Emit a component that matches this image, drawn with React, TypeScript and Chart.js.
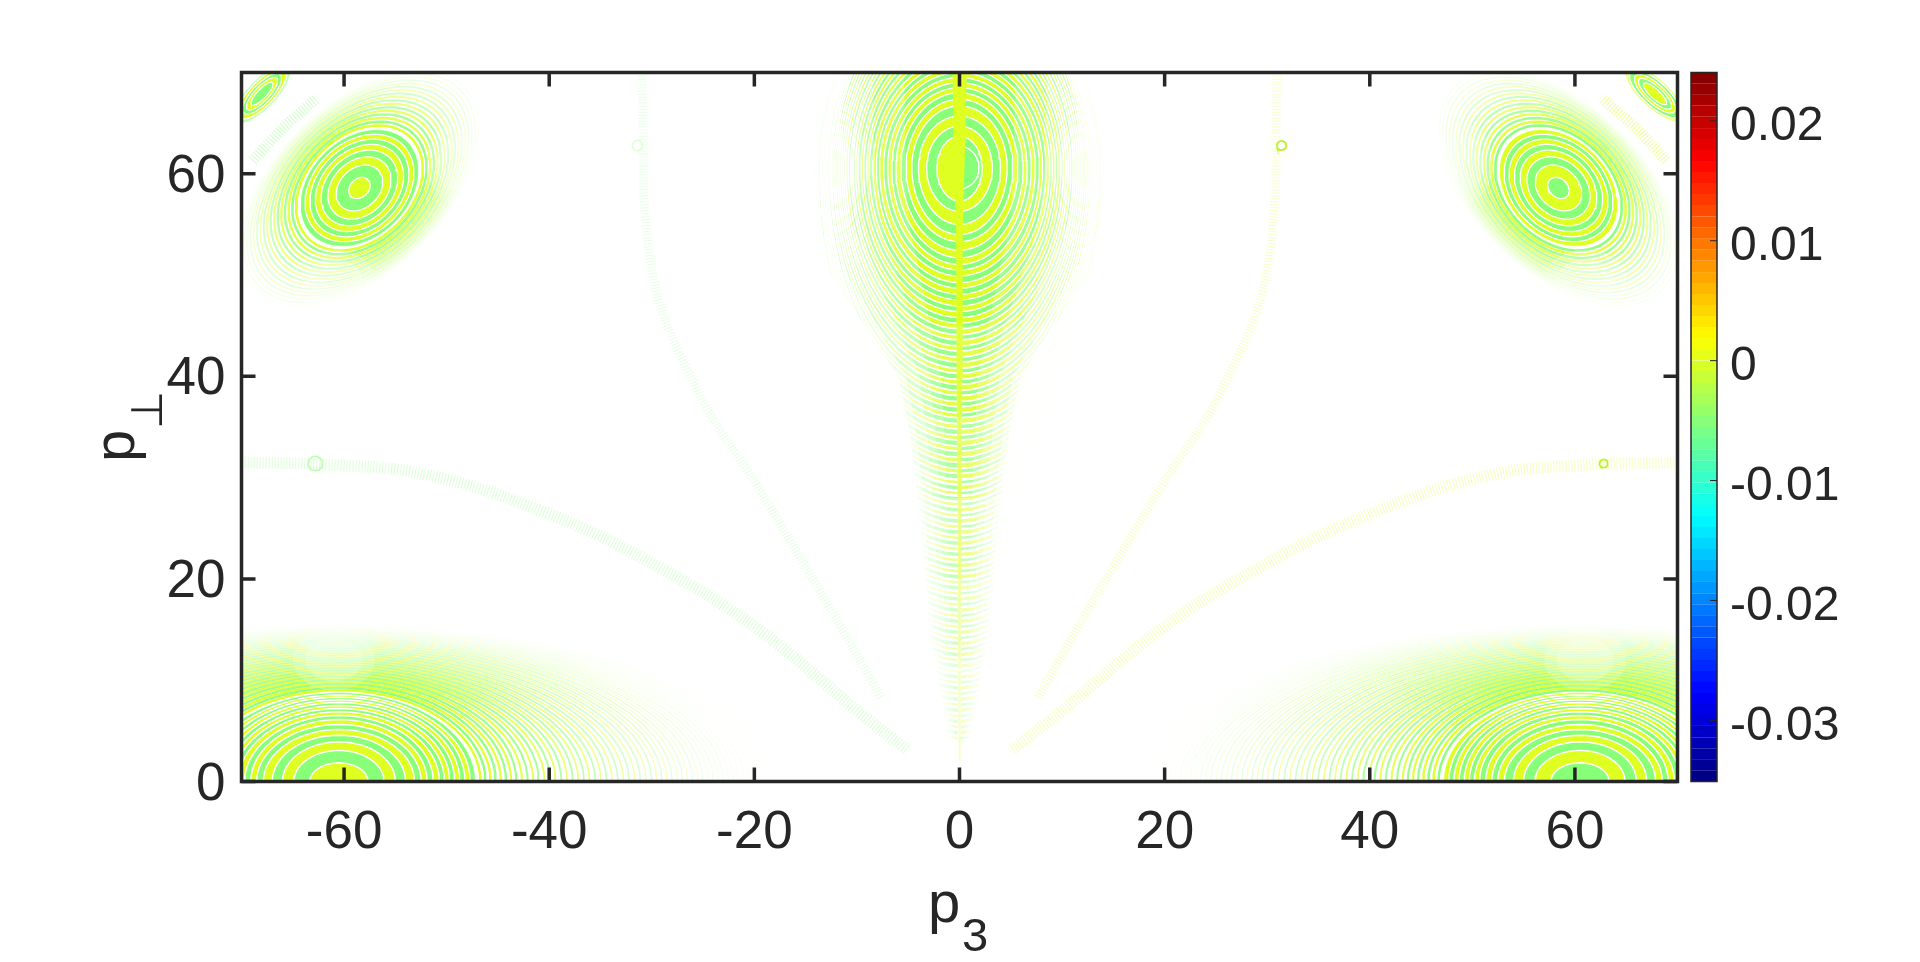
import React, { useEffect, useRef } from "react";
import { Chart, registerables } from "chart.js";
Chart.register(...registerables);

const xTickValues = [-60, -40, -20, 0, 20, 40, 60];
const yTickValues = [0, 20, 40, 60];
const barTickValues = [0.02, 0.01, 0, -0.01, -0.02, -0.03];
const barTickLabels = ["0.02", "0.01", "0", "-0.01", "-0.02", "-0.03"];
const barMin = -0.0351;
const barMax = 0.02403;

const lime = [222, 255, 33];
const green = [136, 255, 120];

// Ring edges, in data units.
const bottomB = [1.84,3.06,3.92,4.57,5.13,5.63,6.12,6.51,6.88,7.2,7.5,7.8,8.06,8.32,8.55,8.78,9.01,9.24,9.44,9.64,9.84,10.03,10.2,10.36,10.53,10.66,10.79,10.92,11.05,11.18,11.31,11.44,11.57,11.7,11.82,11.94,12.06,12.18,12.3,12.42,12.54,12.66,12.78,12.9,13.01,13.12,13.23,13.34,13.45,13.56,13.66,13.76,13.86,13.96,14.05,14.14,14.23,14.32,14.41,14.5,14.58,14.66,14.74,14.82,14.89,14.96,15.03,15.1,15.16,15.22,15.28,15.34,15.4,15.46];
const bottomA = [2.83,4.39,5.5,6.5,7.37,8.02,8.6,9.2,9.8,10.3,10.8,11.3,11.8,12.3,12.8,13.3,13.8,14.3,14.8,15.3,15.8,16.3,16.8,17.3,17.85,18.4,18.95,19.5,20.05,20.6,21.15,21.7,22.25,22.8,23.35,23.9,24.45,25,25.55,26.1,26.65,27.2,27.75,28.3,28.85,29.4,29.95,30.5,31,31.5,32,32.5,33,33.5,34,34.5,35,35.5,36,36.5,37,37.5,38,38.5,39,39.5,40,40.5,41,41.5,42,42.5,43,43.5];
const upperMinor = [0.9,1.95,2.65,3.2,3.67,4.1,4.5,4.85,5.15,5.42,5.68,5.92,6.15,6.37,6.58,6.78,6.97,7.15,7.32,7.48,7.63,7.77,7.9,8.02,8.13,8.24];
const upperMajor = [1.17,2.54,3.45,4.2,4.85,5.45,6,6.55,7.05,7.5,7.95,8.4,8.85,9.3,9.75,10.2,10.65,11.1,11.55,12,12.45,12.9,13.35,13.8,14.25,14.7];
const cornerMinor = [0.45,0.7,0.95,1.2,1.45];
const cornerMajor = [1.5,2.1,2.6,3.2,3.8];
const centerA = [2.2,3.2,4,4.65,5.2,5.7,6.2,6.6,7,7.4,7.8,8.1,8.45,8.8,9.05,9.35,9.6,9.9,10.15,10.4,10.6,10.85,11.1,11.3,11.5,11.7,11.9,12.1,12.3,12.5,12.65,12.85,13,13.15,13.3,13.45,13.6,13.8,13.95,14.1,14.2,14.3,14.4,14.5,14.6,14.7,14.8,14.9,15,15.1,15.2,15.3,15.4,15.5,15.6,15.7,15.8,15.9,16,16.1,16.2,16.3,16.4,16.5,16.5,16.5,16.5,16.5,16.5,16.5,16.5,16.5,16.5,16.5,16.5,16.5,16.5,16.5,16.5,16.5,16.5,16.5,16.5,16.5,16.5,16.5,16.5,16.5,16.5,16.5,16.5,16.5,16.5];
const centerUp = [3.1,4.1,5.1,6.1,6.75,7.4,7.9,8.4,8.9,9.4,9.9,10.4,10.9,11.4,11.9,12.4,12.9,13.4,13.9,14.4,14.9,15.4,15.9,16.4,16.9,17.4,17.9,18.4];
const centerDown = [3.3,4.3,5.6,6.6,7.3,8.15,8.9,9.55,10.1,10.7,11.35,11.9,12.5,13.05,13.65,14.2,14.8,15.35,15.9,16.5,17,17.6,18.1,18.7,19.2,19.8,20.3,20.9,21.4,22,22.5,23.1,23.6,24.2,24.7,25.3,25.8,26.4,26.9,27.5,28,28.6,29.1,29.7,30.2,30.8,31.3,31.9,32.4,33,33.5,34.1,34.6,35.2,35.7,36.3,36.8,37.4,37.9,38.5,39,39.6,40.1,40.7,41.2,41.8,42.3,42.9,43.4,44,44.5,45.1,45.6,46.2,46.7,47.3,47.8,48.4,48.9,49.5,50,50.6,51.1,51.7,52.2,52.8,53.3,53.9,54.4,55,55.5,56.1,56.6];
const centerCoreRight = [1.9, 2.1, 2.1];
const stripeY = [70,66,63,58,54,48,40,30,20,10,2];
const stripeHalf = [0.7,0.6,0.55,0.4,0.33,0.3,0.27,0.2,0.15,0.12,0.08];
const envelopeY = [70,60,55,50,45,40,35,30,25,20,15,11,8,4,1,0];
const envelopeX = [15.5,15,14,11,8,5.2,4.3,3.7,3.2,2.9,2.5,2,1.5,0.8,0.2,0.1];
const strandLowX = [-70,-62,-52,-40,-29,-19.6,-10,-5];
const strandLowY = [31.5,31.3,30.3,26.4,21,15,7,3];
const strandHighX = [-31,-30,-25.5,-19.6,-12.4,-7.6];
const strandHighY = [70,50.6,38.5,29,16.7,8.2];
const cornerStreakX = [-68.9,-66,-62.6];
const cornerStreakY = [61.3,64.5,67.5];
const patchX = [-61,61,-61,61,-49,49,-12,12,0];
const patchY = [12,12,49.5,49.5,61,61,61,61,11];
const patchRx = [4,4,4,4,3,3,3.5,3.5,3];
const patchRy = [3,3,3,3,4,4,4,4,0.25];
const dotX = [-62.8,62.8,31.4,-31.4];
const dotY = [31.4,31.4,62.8,62.8];
const dotR = [0.7,0.4,0.45,0.5];

const mix = (c: number[], s: number) => {
  const m = c.map((v) => Math.round(255 - (255 - v) * s));
  return `rgb(${m[0]},${m[1]},${m[2]})`;
};
const ellipse = (cx: number, cy: number, a: number, b: number, deg: number) => {
  const t = (deg * Math.PI) / 180;
  const pts = [];
  for (let i = 0; i <= 72; i++) {
    const u = (i * Math.PI) / 36;
    const ex = a * Math.cos(u);
    const ey = b * Math.sin(u);
    pts.push({ x: cx + ex * Math.cos(t) - ey * Math.sin(t), y: cy + ex * Math.sin(t) + ey * Math.cos(t) });
  }
  return pts;
};
const halfRing = (side: number, cy: number, a: number, up: number, down: number) => {
  const pts = [];
  for (let i = 0; i <= 36; i++) {
    const u = -Math.PI / 2 + (i * Math.PI) / 36;
    const s = Math.sin(u);
    pts.push({ x: side * a * Math.cos(u), y: cy + (s > 0 ? up : down) * s });
  }
  pts.push(pts[0]);
  return pts;
};
const shape = (data: any[], fillColor: string, edge = "rgba(0,0,0,0)", edgeWidth = 0) => ({
  data,
  showLine: true,
  fill: "shape",
  backgroundColor: fillColor,
  borderColor: edge,
  borderWidth: edgeWidth,
  pointRadius: 0,
  tension: 0,
});
const stroke = (data: any[], color: string, width: number, dash: number[] = [], tension = 0) => ({
  data,
  showLine: true,
  fill: false,
  borderColor: color,
  borderWidth: width,
  borderDash: dash,
  pointRadius: 0,
  tension,
});
const strengthOf = (i: number, n: number, start: number) => {
  const f = i / (n - 1);
  if (f <= start) return 1;
  return Math.max(0.06, 1 - ((f - start) / (1 - start)) * 0.95);
};

const buildDatasets = () => {
  const out: any[] = [];
  // central lobe, outermost first: both sides share their edges with the colours swapped
  const cy = 60.6;
  for (const side of [-1, 1]) {
    for (let i = centerA.length - 1; i >= 0; i--) {
      const up = centerUp[Math.min(i, centerUp.length - 1)];
      const oddGreen = side < 0;
      const c = (i % 2 === 1) === oddGreen ? green : lime;
      out.push(shape(halfRing(side, cy, centerA[i], up, centerDown[i]), mix(c, 1), "#ffffff", i < 18 ? 1.4 : i < 45 ? 1.8 : 2.6));
    }
  }
  out.push(shape(halfRing(1, cy, centerCoreRight[0], centerCoreRight[1], centerCoreRight[2]), mix(green, 1), "#ffffff", 1.4));
  out.push(shape([...stripeY.map((y, i) => ({ x: -stripeHalf[i], y })), ...stripeY.slice().reverse().map((y, i) => ({ x: stripeHalf[stripeHalf.length - 1 - i], y }))], mix(lime, 1)));
  // fading of the central lobe
  const vFades = [[45, 0.15], [36, 0.2], [28, 0.25], [20, 0.3], [12, 0.3]];
  for (const [top, al] of vFades) {
    out.push(shape([{ x: -18, y: 0 }, { x: 18, y: 0 }, { x: 18, y: top }, { x: -18, y: top }, { x: -18, y: 0 }], `rgba(255,255,255,${al})`));
  }
  const masks = [[0.35, 0.2], [0.55, 0.25], [0.75, 0.35], [1, 0.5], [1.15, 0.9]];
  for (const [k, al] of masks) {
    for (const side of [-1, 1]) {
      const pts = envelopeY.map((y, i) => ({ x: side * envelopeX[i] * k, y }));
      pts.push({ x: side * 18, y: 0 }, { x: side * 18, y: 70 }, pts[0]);
      out.push(shape(pts, `rgba(255,255,255,${al})`));
    }
  }
  // bottom lobes: solid bands near the core, thin fringes further out
  for (const [cx, flip] of [[-60.5, false], [60.5, true]] as [number, boolean][]) {
    for (let i = bottomB.length - 1; i >= 0; i--) {
      const c = (i % 2 === 0) !== flip ? lime : green;
      const pts = ellipse(cx, 0, bottomA[i], bottomB[i], 0);
      const st = strengthOf(i, bottomB.length, 0.2);
      if (i >= 16) out.push(stroke(pts, mix(c, Math.pow(st, 1.6)), Math.max(1, 2.4 - (i - 16) * 0.03)));
      else out.push(shape(pts, mix(c, 1), "#ffffff", i === 15 ? 0.6 : 1.5));
    }
  }
  // upper tilted lobes, same edges with the colours swapped
  for (const [cx, deg, first, second] of [[-58.5, 45, lime, green], [58.4, 135, green, lime]] as [number, number, number[], number[]][]) {
    for (let i = upperMinor.length - 1; i >= 0; i--) {
      const c = i % 2 === 0 ? first : second;
      const pts = ellipse(cx, 58.6, upperMajor[i], upperMinor[i], deg);
      const st = strengthOf(i, upperMinor.length, 0.28);
      if (i >= 8) out.push(stroke(pts, mix(c, Math.pow(st, 1.3)), Math.max(1.1, 2.6 - (i - 8) * 0.08)));
      else out.push(shape(pts, mix(c, 1), "#ffffff", i === 7 ? 0.6 : 1.3));
    }
  }
  // corner lobes
  for (const [cx, deg, first, second] of [[-68, 47, green, lime], [67.8, -43, lime, green]] as [number, number, number[], number[]][]) {
    for (let i = cornerMinor.length - 1; i >= 0; i--) {
      const c = i % 2 === 0 ? first : second;
      out.push(shape(ellipse(cx, 67.9, cornerMajor[i], cornerMinor[i], deg), mix(c, i === 4 ? 0.5 : 1), "#ffffff", 1.2));
    }
  }
  // patches where the interference thins the fringes
  patchX.forEach((x, i) => {
    out.push(shape(ellipse(x, patchY[i], patchRx[i], patchRy[i], 0), "rgba(255,255,255,0.22)"));
    out.push(shape(ellipse(x, patchY[i], patchRx[i] * 0.7, patchRy[i] * 0.7, 0), "rgba(255,255,255,0.25)"));
  });
  // faint strands
  const low = strandLowX.map((x, i) => ({ x, y: strandLowY[i] }));
  const high = strandHighX.map((x, i) => ({ x, y: strandHighY[i] }));
  const corner = cornerStreakX.map((x, i) => ({ x, y: cornerStreakY[i] }));
  const mirror = (p: any[]) => p.map((q) => ({ x: -q.x, y: q.y }));
  out.push(stroke(low, "rgba(136,255,120,0.3)", 12, [1, 2], 0.4));
  out.push(stroke(high, "rgba(136,255,120,0.2)", 9, [1, 2], 0.4));
  out.push(stroke(corner, "rgba(136,255,120,0.4)", 11, [1, 2]));
  out.push(stroke(mirror(low), "rgba(222,255,33,0.3)", 12, [1, 2], 0.4));
  out.push(stroke(mirror(high), "rgba(222,255,33,0.25)", 9, [1, 2], 0.4));
  out.push(stroke(mirror(corner), "rgba(222,255,33,0.45)", 11, [1, 2]));
  dotX.forEach((x, i) => {
    out.push(stroke(ellipse(x, dotY[i], dotR[i], dotR[i], 0), i === 0 ? "rgb(190,255,175)" : i === 3 ? "rgb(225,255,215)" : "rgb(190,240,40)", 1.6));
  });
  return out.reverse();
};

const jet = (f: number) => {
  const ch = (v: number) => Math.round(255 * Math.max(0, Math.min(1, 1.5 - Math.abs(4 * f - v))));
  return `rgb(${ch(3)},${ch(2)},${ch(1)})`;
};

const INK = "#262626";
const FONT = '"Liberation Sans", Arial, sans-serif';

const framePlugin = {
  id: "frame",
  afterDatasetsDraw(chart: any) {
    const { ctx, chartArea: a, scales } = chart;
    ctx.save();
    ctx.strokeStyle = INK;
    ctx.lineWidth = 3.5;
    ctx.strokeRect(a.left, a.top, a.right - a.left, a.bottom - a.top);
    ctx.beginPath();
    for (const v of xTickValues) {
      const p = scales.x.getPixelForValue(v);
      ctx.moveTo(p, a.bottom);
      ctx.lineTo(p, a.bottom - 14);
      ctx.moveTo(p, a.top);
      ctx.lineTo(p, a.top + 14);
    }
    for (const v of yTickValues) {
      const p = scales.y.getPixelForValue(v);
      ctx.moveTo(a.left, p);
      ctx.lineTo(a.left + 14, p);
      ctx.moveTo(a.right, p);
      ctx.lineTo(a.right - 14, p);
    }
    ctx.stroke();
    ctx.fillStyle = INK;
    ctx.textBaseline = "alphabetic";
    ctx.textAlign = "left";
    ctx.font = `58px ${FONT}`;
    ctx.fillText("p", 928, 922);
    ctx.font = `47px ${FONT}`;
    ctx.fillText("3", 962, 951);
    ctx.save();
    ctx.translate(133.5, 462);
    ctx.rotate(-Math.PI / 2);
    ctx.font = `58px ${FONT}`;
    ctx.fillText("p", 0, 0);
    ctx.font = `200 44px "DejaVu Sans", sans-serif`;
    ctx.fillText("\u22A5", 33, 28);
    ctx.restore();
    ctx.restore();
  },
};

const barFramePlugin = {
  id: "barFrame",
  afterDatasetsDraw(chart: any) {
    const { ctx, chartArea: a, scales } = chart;
    ctx.save();
    ctx.strokeStyle = INK;
    ctx.lineWidth = 1.5;
    ctx.strokeRect(a.left, a.top, a.right - a.left, a.bottom - a.top);
    ctx.beginPath();
    for (const v of barTickValues) {
      const p = scales.y.getPixelForValue(v);
      ctx.moveTo(a.right, p);
      ctx.lineTo(a.right - 7, p);
    }
    ctx.lineWidth = 1;
    ctx.stroke();
    ctx.restore();
  },
};

export default function App() {
  const mainRef = useRef<HTMLCanvasElement>(null);
  const barRef = useRef<HTMLCanvasElement>(null);
  useEffect(() => {
    const main = new Chart(mainRef.current as any, {
      type: "scatter",
      data: { datasets: buildDatasets() },
      plugins: [framePlugin],
      options: {
        animation: false,
        responsive: false,
        layout: { padding: { top: 72.5, right: 242.5, bottom: 0, left: 0 } },
        plugins: { legend: { display: false }, tooltip: { enabled: false } },
        events: [],
        scales: {
          x: {
            type: "linear",
            min: -70,
            max: 70,
            grid: { display: false, drawTicks: false },
            border: { display: false },
            afterBuildTicks: (s: any) => { s.ticks = xTickValues.map((value) => ({ value })); },
            afterFit: (s: any) => { s.height = 962 - 781.5; },
            ticks: { color: INK, font: { family: FONT, size: 53 }, padding: 20, maxRotation: 0, autoSkip: false, callback: (v: any) => String(v) },
          },
          y: {
            type: "linear",
            min: 0,
            max: 70,
            grid: { display: false, drawTicks: false },
            border: { display: false },
            afterBuildTicks: (s: any) => { s.ticks = yTickValues.map((value) => ({ value })); },
            afterFit: (s: any) => { s.width = 241.5; },
            ticks: { color: INK, font: { family: FONT, size: 53 }, padding: 16, labelOffset: 3.5, autoSkip: false, callback: (v: any) => String(v) },
          },
        },
      } as any,
    });
    const n = 64;
    const colorbarLevels = Array.from({ length: n }, (_, i) => [barMin + ((barMax - barMin) * i) / n, barMin + ((barMax - barMin) * (i + 1)) / n]);
    const bar = new Chart(barRef.current as any, {
      type: "bar",
      data: {
        labels: ["c"],
        datasets: colorbarLevels.map((lv, i) => ({
          data: [lv],
          backgroundColor: jet((i + 0.5) / n),
          borderColor: jet((i + 0.5) / n),
          borderWidth: 0.6,
          barPercentage: 1,
          categoryPercentage: 1,
        })),
      },
      plugins: [barFramePlugin],
      options: {
        animation: false,
        responsive: false,
        events: [],
        layout: { padding: { top: 72.5, right: 0, bottom: 180.5, left: 11 } },
        plugins: { legend: { display: false }, tooltip: { enabled: false } },
        scales: {
          x: { display: false, stacked: true },
          y: {
            position: "right",
            min: barMin,
            max: barMax,
            grid: { display: false, drawTicks: false },
            border: { display: false },
            afterBuildTicks: (s: any) => { s.ticks = barTickValues.map((value) => ({ value })); },
            afterFit: (s: any) => { s.width = 203; },
            ticks: {
              color: INK,
              font: { family: FONT, size: 48 },
              padding: 13,
              labelOffset: 6,
              autoSkip: false,
              callback: (v: any) => barTickLabels[barTickValues.indexOf(v)],
            },
          },
        },
      } as any,
    });
    return () => {
      main.destroy();
      bar.destroy();
    };
  }, []);
  return (
    <div style={{ position: "absolute", left: 0, top: 0, width: 1920, height: 962, background: "#fff" }}>
      <canvas ref={mainRef} width={1920} height={962} style={{ position: "absolute", left: 0, top: 0 }} />
      <canvas ref={barRef} width={240} height={962} style={{ position: "absolute", left: 1680, top: 0 }} />
    </div>
  );
}
